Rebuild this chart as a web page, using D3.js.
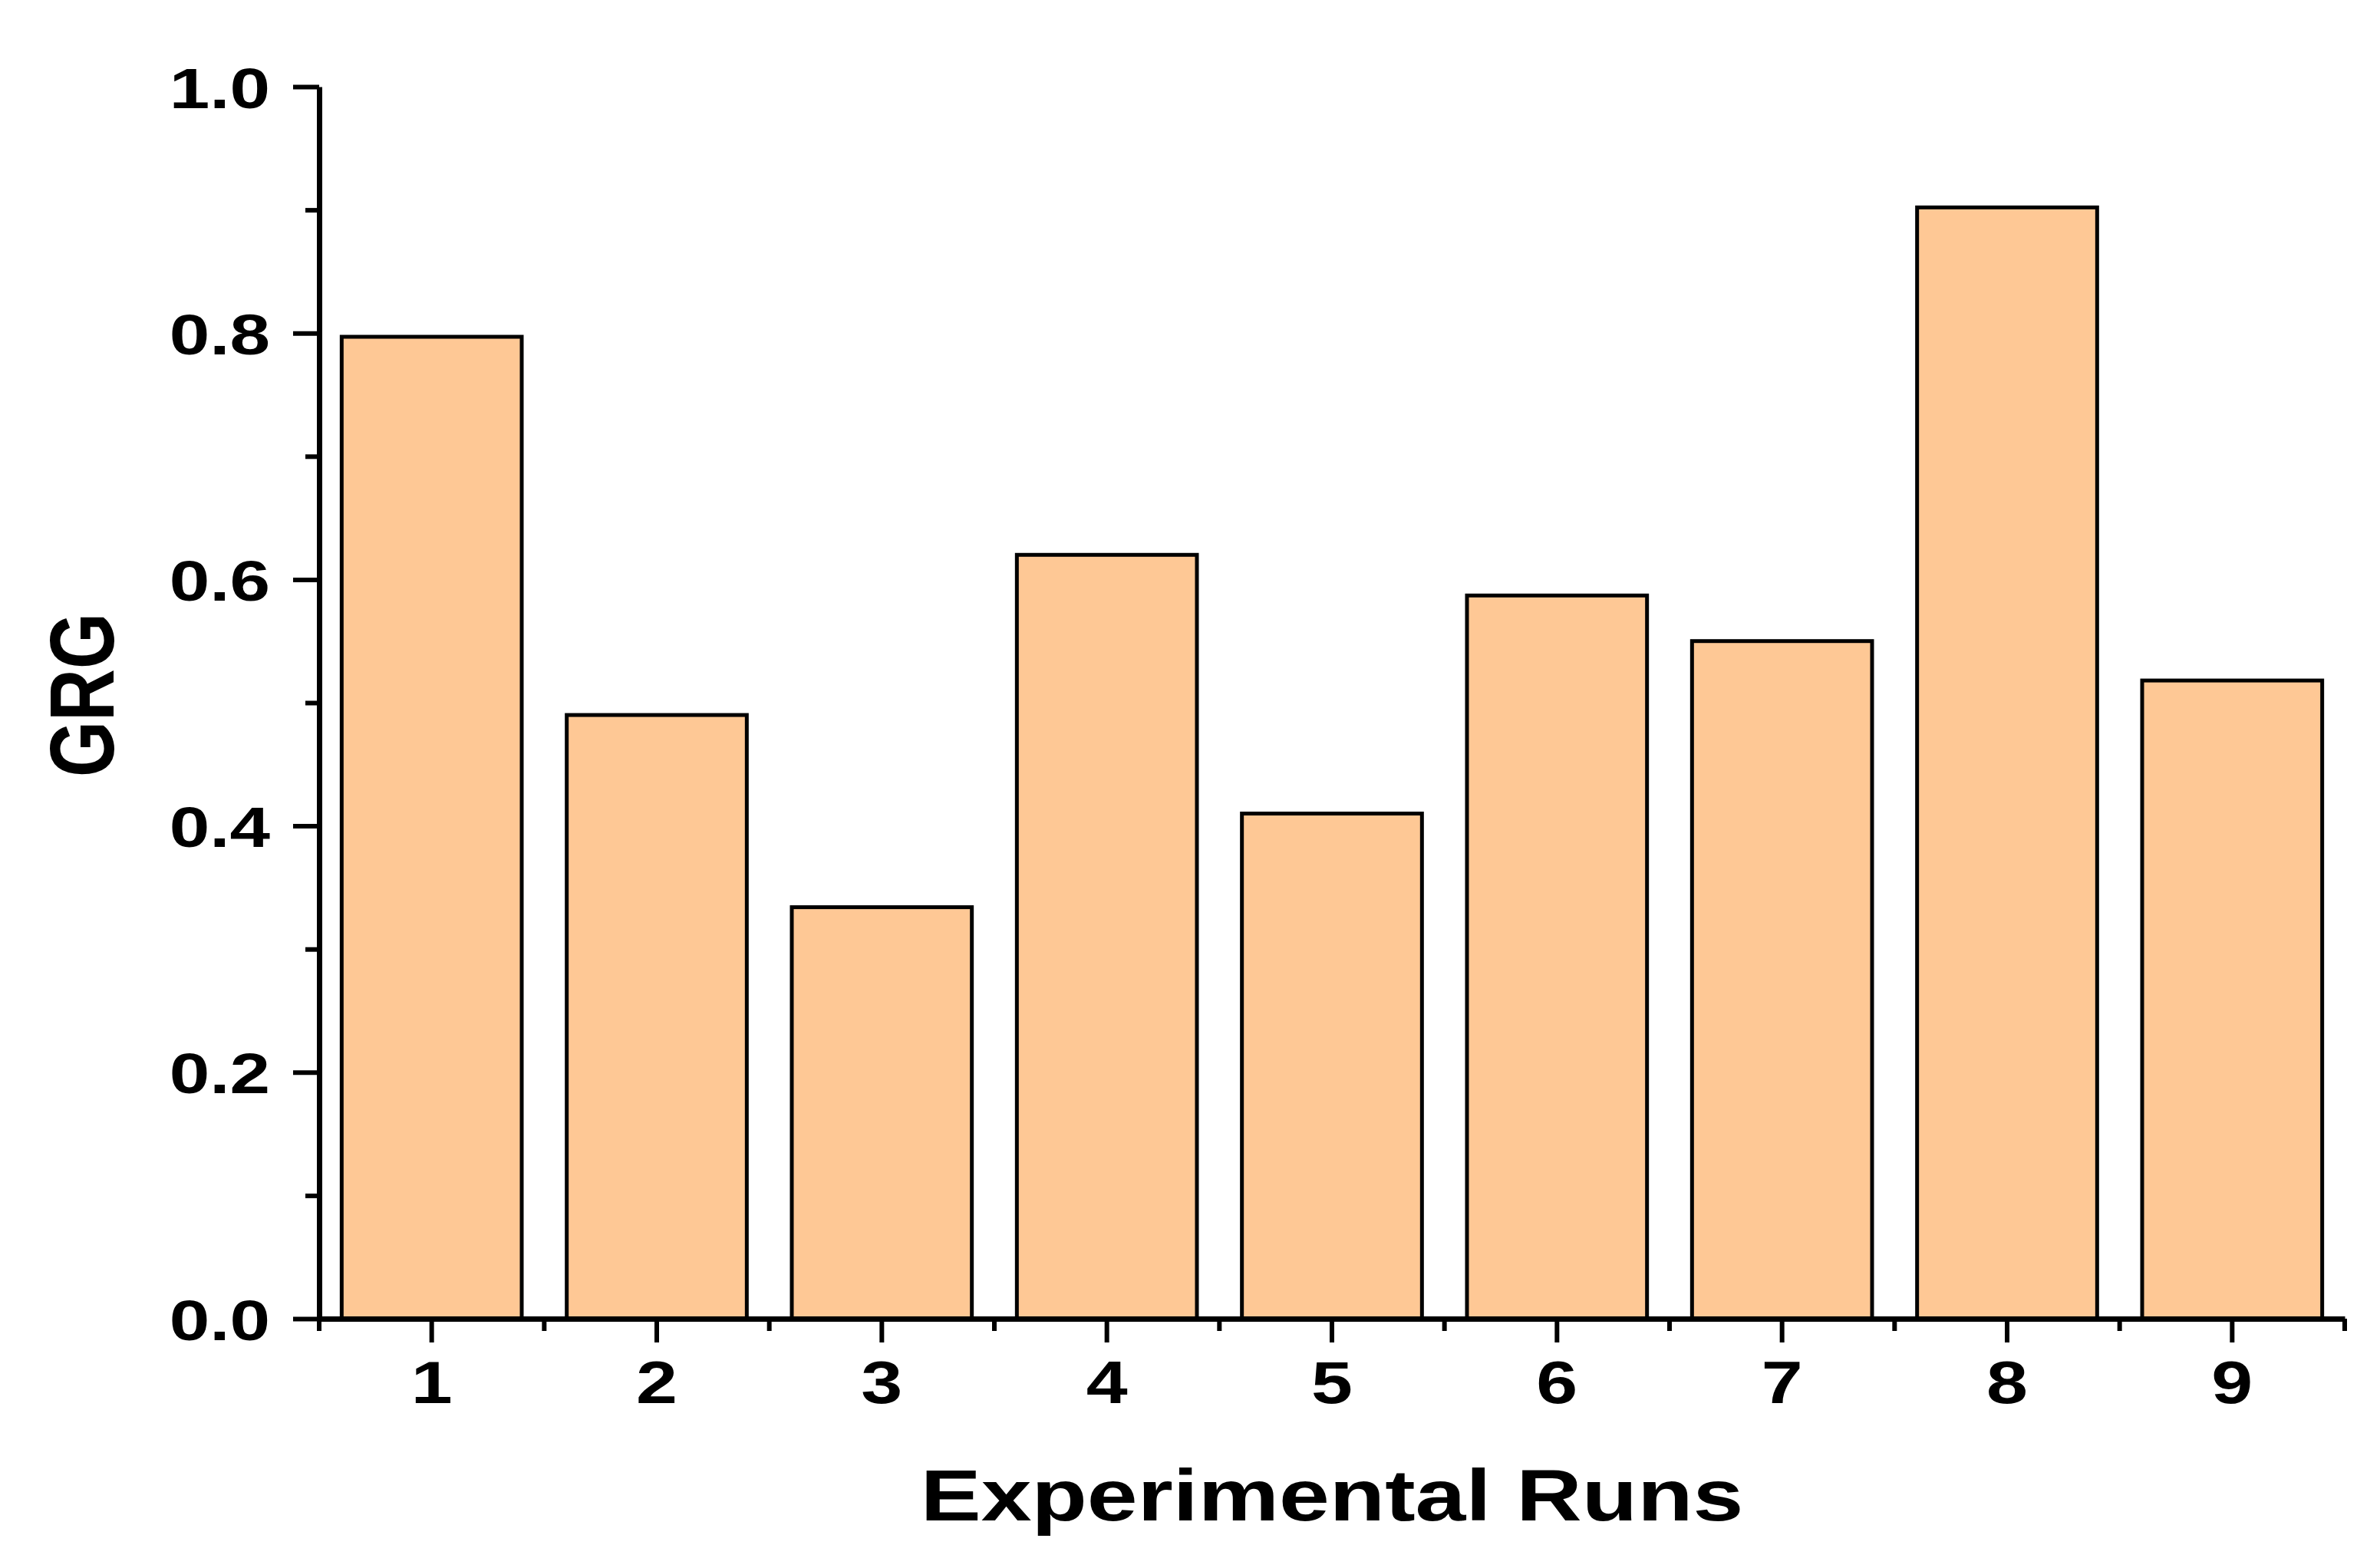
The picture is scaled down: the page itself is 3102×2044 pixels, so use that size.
<!DOCTYPE html>
<html><head><meta charset="utf-8">
<script src="https://cdn.jsdelivr.net/npm/d3@7"></script>
<style>html,body{margin:0;padding:0;background:#fff;} svg{display:block;}</style>
</head><body>
<script>
const runs = ["1","2","3","4","5","6","7","8","9"];
const grg = [0.797, 0.490, 0.334, 0.620, 0.410, 0.587, 0.550, 0.902, 0.518];
const yTicks = [0, 0.2, 0.4, 0.6, 0.8, 1.0];
const yMinorTicks = [0.1, 0.3, 0.5, 0.7, 0.9];
const xTitle = "Experimental Runs";
const yTitle = "GRG";

const W = 3102, H = 2044;
const L = 416, R = 3056, T = 113, B = 1719;
const SX = 1.26;
const FONT = "'Liberation Sans', Arial, sans-serif";

const svg = d3.select("body").append("svg").attr("width", W).attr("height", H);
svg.append("rect").attr("width", W).attr("height", H).attr("fill", "#fff");

const x = d3.scaleBand().domain(runs).range([L, R]).paddingInner(0.2).paddingOuter(0.1);
const y = d3.scaleLinear().domain([0, 1]).range([B, T]);

// bars
svg.append("g").selectAll("rect").data(runs).join("rect")
  .attr("x", d => x(d))
  .attr("y", (d, i) => y(grg[i]))
  .attr("width", x.bandwidth())
  .attr("height", (d, i) => y(0) - y(grg[i]))
  .attr("fill", "#FEC895")
  .attr("stroke", "#000")
  .attr("stroke-width", 5);

// y axis
const gy = svg.append("g").attr("transform", `translate(${L},0)`)
  .call(d3.axisLeft(y).tickValues(yTicks).tickSize(34).tickSizeOuter(0).tickFormat(d3.format(".1f")));
gy.select(".domain").attr("stroke", "#000").attr("stroke-width", 7);
gy.selectAll(".tick line").attr("stroke", "#000").attr("stroke-width", 6);
gy.selectAll(".tick text")
  .attr("x", 0).attr("dy", "0.36em")
  .attr("transform", `translate(-64,0) scale(${SX},1)`)
  .attr("font-family", FONT).attr("font-weight", "bold").attr("font-size", 75).attr("fill", "#000");

const gym = svg.append("g").attr("transform", `translate(${L},0)`)
  .call(d3.axisLeft(y).tickValues(yMinorTicks).tickSize(18).tickFormat(""));
gym.select(".domain").remove();
gym.selectAll(".tick line").attr("stroke", "#000").attr("stroke-width", 6);

// x axis
const gx = svg.append("g").attr("transform", `translate(0,${B})`)
  .call(d3.axisBottom(x).tickSize(31).tickSizeOuter(0));
gx.select(".domain").attr("stroke", "#000").attr("stroke-width", 7);
gx.selectAll(".tick line").attr("stroke", "#000").attr("stroke-width", 6);
gx.selectAll(".tick text")
  .attr("y", 0).attr("dy", 0)
  .attr("transform", `translate(0,110) scale(${SX},1)`)
  .attr("font-family", FONT).attr("font-weight", "bold").attr("font-size", 77).attr("fill", "#000");

// x minor ticks at band boundaries
const bounds = runs.map(d => x(d) - x.step() * x.paddingInner() / 2).concat([R]);
svg.append("g").selectAll("line").data(bounds).join("line")
  .attr("x1", d => d).attr("x2", d => d)
  .attr("y1", B).attr("y2", B + 16)
  .attr("stroke", "#000").attr("stroke-width", 6);

// titles
svg.append("text")
  .attr("transform", `translate(${(L + R) / 2},1982) scale(${SX},1)`)
  .attr("text-anchor", "middle")
  .attr("font-family", FONT).attr("font-weight", "bold").attr("font-size", 94).attr("fill", "#000")
  .text(xTitle);

svg.append("text")
  .attr("transform", `translate(148,906) rotate(-90) scale(1,${SX})`)
  .attr("text-anchor", "middle")
  .attr("font-family", FONT).attr("font-weight", "bold").attr("font-size", 94).attr("fill", "#000")
  .text(yTitle);
</script>
</body></html>
